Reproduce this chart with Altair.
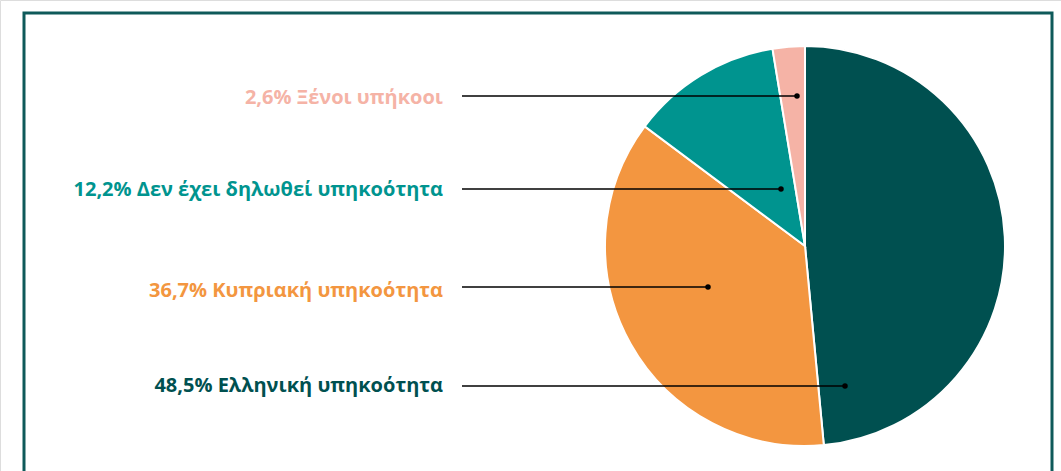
import altair as alt
import pandas as pd

# ---- data ----
categories = ["Ελληνική υπηκοότητα", "Κυπριακή υπηκοότητα", "Δεν έχει δηλωθεί υπηκοότητα", "Ξένοι υπήκοοι"]
values = [48.5, 36.7, 12.2, 2.6]
value_labels = ["48,5%", "36,7%", "12,2%", "2,6%"]
colors = ["#005050", "#f39640", "#00948f", "#f5b3a6"]

# ---- layout (pixels) ----
W, H = 1061, 471
cx, cy, R = 805, 246, 200
label_x = 443
line_x0 = 462
label_y = [386, 291, 190, 98]
line_y = [386, 287, 189, 96]
dot_x = [845, 708, 781, 797]

pie_df = pd.DataFrame({"cat": categories, "value": values, "order": list(range(len(values)))})
ann_df = pd.DataFrame({
    "cat": categories,
    "text": [f"{v} {c}" for v, c in zip(value_labels, categories)],
    "lx": [label_x] * 4,
    "ly": label_y,
    "x0": [line_x0] * 4,
    "x1": dot_x,
    "yy": line_y,
})

color_scale = alt.Scale(domain=categories, range=colors)

frame = alt.Chart(pd.DataFrame({"a": [0]})).mark_rect(
    fill=None, stroke="#0e5a5a", strokeWidth=3
).encode(
    x=alt.value(24), x2=alt.value(1052), y=alt.value(13), y2=alt.value(490)
)

pie = alt.Chart(pie_df).mark_arc(radius=R, stroke="white", strokeWidth=2).encode(
    theta=alt.Theta("value:Q", stack=True),
    color=alt.Color("cat:N", scale=color_scale, legend=None),
    order=alt.Order("order:Q"),
    x=alt.value(cx),
    y=alt.value(cy),
)

lines = alt.Chart(ann_df).mark_rule(color="black", strokeWidth=1.5).encode(
    x=alt.X("x0:Q", scale=None),
    x2="x1:Q",
    y=alt.Y("yy:Q", scale=None),
)

dots = alt.Chart(ann_df).mark_circle(color="black", opacity=1, size=30).encode(
    x=alt.X("x1:Q", scale=None),
    y=alt.Y("yy:Q", scale=None),
)

texts = alt.Chart(ann_df).mark_text(
    align="right", baseline="middle", font="Open Sans", fontWeight="bold", fontSize=20
).encode(
    x=alt.X("lx:Q", scale=None),
    y=alt.Y("ly:Q", scale=None),
    text="text:N",
    color=alt.Color("cat:N", scale=color_scale, legend=None),
)

chart = alt.layer(frame, pie, lines, dots, texts).properties(
    width=W, height=H, padding=0, autosize=alt.AutoSizeParams(type="none")
).configure_view(stroke=None).configure(background="white")

chart.save("out.html", embed_options={"renderer": "svg", "actions": False})
